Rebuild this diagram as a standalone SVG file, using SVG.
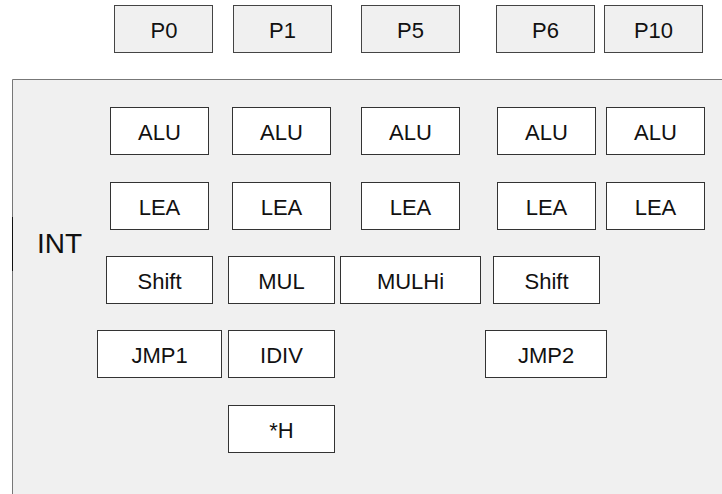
<svg xmlns="http://www.w3.org/2000/svg" width="722" height="494" viewBox="0 0 722 494">
<style>
.port rect{fill:#f0f0f0;stroke:#444;stroke-width:1}
.unit rect{fill:#fff;stroke:#333;stroke-width:1}
text{font-family:"Liberation Sans",Arial,sans-serif;font-size:22px;fill:#111;text-anchor:middle}
.lbl{font-size:28px;text-anchor:start}
</style>
<rect width="722" height="494" fill="#fff"/>
<g id="INT">
<path d="M722.5 79.5H12.5V494" fill="#f0f0f0" stroke="#777" stroke-width="1"/>
<rect x="13" y="80" width="709" height="414" fill="#f0f0f0"/>
<line x1="12.5" y1="217" x2="12.5" y2="271" stroke="#111" stroke-width="1"/>
<text class="lbl" x="37" y="253">INT</text>
</g>
<g id="P0" class="port"><rect x="114.5" y="5.5" width="98" height="47"/><text x="164" y="37.5">P0</text></g>
<g id="P1" class="port"><rect x="233.5" y="5.5" width="98" height="47"/><text x="282.5" y="37.5">P1</text></g>
<g id="P5" class="port"><rect x="361.5" y="5.5" width="98" height="47"/><text x="410.5" y="37.5">P5</text></g>
<g id="P6" class="port"><rect x="496.5" y="5.5" width="98" height="47"/><text x="545.5" y="37.5">P6</text></g>
<g id="P10" class="port"><rect x="604.5" y="5.5" width="98" height="47"/><text x="653.5" y="37.5">P10</text></g>
<g id="ALU0" class="unit"><rect x="110.5" y="107.5" width="98" height="47"/><text x="159.5" y="139.5">ALU</text></g>
<g id="ALU1" class="unit"><rect x="232.5" y="107.5" width="98" height="47"/><text x="281.5" y="139.5">ALU</text></g>
<g id="ALU5" class="unit"><rect x="361.5" y="107.5" width="98" height="47"/><text x="410.5" y="139.5">ALU</text></g>
<g id="ALU6" class="unit"><rect x="497.5" y="107.5" width="98" height="47"/><text x="546.5" y="139.5">ALU</text></g>
<g id="ALU10" class="unit"><rect x="606.5" y="107.5" width="98" height="47"/><text x="655.5" y="139.5">ALU</text></g>
<g id="LEA0" class="unit"><rect x="110.5" y="182.5" width="98" height="47"/><text x="159.5" y="214.5">LEA</text></g>
<g id="LEA1" class="unit"><rect x="232.5" y="182.5" width="98" height="47"/><text x="281.5" y="214.5">LEA</text></g>
<g id="LEA5" class="unit"><rect x="361.5" y="182.5" width="98" height="47"/><text x="410.5" y="214.5">LEA</text></g>
<g id="LEA6" class="unit"><rect x="497.5" y="182.5" width="98" height="47"/><text x="546.5" y="214.5">LEA</text></g>
<g id="LEA10" class="unit"><rect x="606.5" y="182.5" width="98" height="47"/><text x="655.5" y="214.5">LEA</text></g>
<g id="Shift0" class="unit"><rect x="106.5" y="256.5" width="106" height="47"/><text x="159.5" y="288.5">Shift</text></g>
<g id="MUL" class="unit"><rect x="228.5" y="256.5" width="106" height="47"/><text x="281.5" y="288.5">MUL</text></g>
<g id="MULHi" class="unit"><rect x="340.5" y="256.5" width="140" height="47"/><text x="410.5" y="288.5">MULHi</text></g>
<g id="Shift6" class="unit"><rect x="493.5" y="256.5" width="106" height="47"/><text x="546.5" y="288.5">Shift</text></g>
<g id="JMP1" class="unit"><rect x="97.5" y="330.5" width="124" height="47"/><text x="159.5" y="362.5">JMP1</text></g>
<g id="IDIV" class="unit"><rect x="228.5" y="330.5" width="106" height="47"/><text x="281.5" y="362.5">IDIV</text></g>
<g id="JMP2" class="unit"><rect x="485.5" y="330.5" width="121" height="47"/><text x="546" y="362.5">JMP2</text></g>
<g id="H" class="unit"><rect x="228.5" y="405.5" width="106" height="47"/><text x="281.5" y="437.5">*H</text></g>
<g id="connectors"></g>
</svg>
